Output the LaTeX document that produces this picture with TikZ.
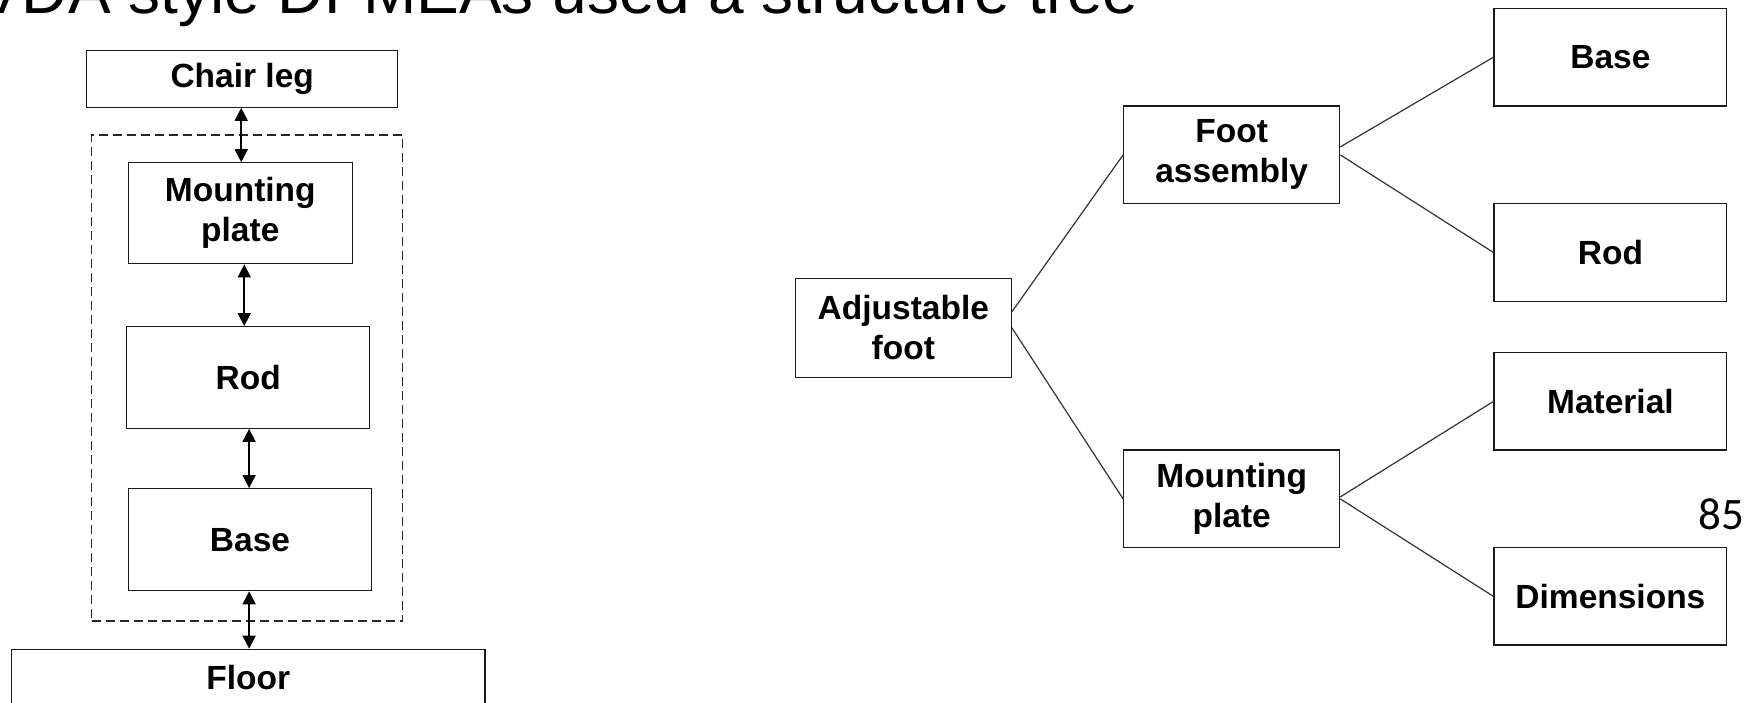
\documentclass[tikz,border=0pt]{standalone}
\usepackage{fontspec}
\setmainfont{Liberation Sans}
\newfontfamily\pagenumfont{Carlito}
\usetikzlibrary{arrows.meta,calc}

\tikzset{
  box/.style={draw=black!90, line width=1.2pt, rectangle, inner sep=0pt,
    align=center, font=\bfseries\fontsize{33.5}{40}\selectfont},
  biarrow/.style={line width=1.6pt,
    {Triangle[length=13pt,width=13pt]}-{Triangle[length=13pt,width=13pt]}},
  branch/.style={line width=1.2pt, draw=black!80},
  groupframe/.style={draw=black!85, line width=1.2pt, dash pattern=on 9pt off 5pt}
}

\begin{document}
\begin{tikzpicture}[x=1pt,y=-1pt]
  \useasboundingbox (0,0) rectangle (1747,702);

  % heading (partly above the page edge)
  \node[anchor=base west, inner sep=0pt, font=\fontsize{64}{70}\selectfont]
    (title) at (-21,13.3) {VDA style DFMEAs used a structure tree};

  % ---- interface chain ----
  \node[groupframe, minimum width=311pt, minimum height=486pt, inner sep=0pt]
    (frame) at (247.2,378) {};
  \node[box, minimum width=311pt, minimum height=57pt] (chair) at (242.2,78.7) {Chair leg};
  \node[box, minimum width=224pt, minimum height=101pt] (mplate) at (240.3,213.3) {Mounting\\plate};
  \node[box, minimum width=243pt, minimum height=101.6pt] (rod) at (248.2,377.5) {Rod};
  \node[box, minimum width=243.4pt, minimum height=102pt] (base) at (250,539.7) {Base};
  \node[box, minimum width=473.3pt, minimum height=57pt] (floor) at (248.3,677.8) {Floor};

  \coordinate (m1) at ($(chair.south)!0.5!(mplate.north)$);
  \coordinate (m2) at ($(mplate.south)!0.5!(rod.north)$);
  \coordinate (m3) at ($(rod.south)!0.5!(base.north)$);
  \coordinate (m4) at ($(base.south)!0.5!(floor.north)$);
  \draw[biarrow] (chair.south -| m1) -- (mplate.north -| m1);
  \draw[biarrow] (mplate.south -| m2) -- (rod.north -| m2);
  \draw[biarrow] (rod.south -| m3) -- (base.north -| m3);
  \draw[biarrow] (base.south -| m4) -- (floor.north -| m4);

  % ---- structure tree ----
  \node[box, minimum width=216pt, minimum height=99pt] (adj) at (903.3,327.8) {Adjustable\\foot};
  \node[box, minimum width=216pt, minimum height=97.7pt] (fa) at (1231.7,154.9) {Foot\\assembly};
  \node[box, minimum width=216pt, minimum height=97.7pt] (mp) at (1231.7,498.9) {Mounting\\plate};
  \node[box, minimum width=232.7pt, minimum height=97.7pt] (tbase) at (1610.4,57.2) {Base};
  \node[box, minimum width=232.7pt, minimum height=97.7pt] (trod) at (1610.4,252.5) {Rod};
  \node[box, minimum width=232.7pt, minimum height=97.3pt] (mat) at (1610.4,401.4) {Material};
  \node[box, minimum width=232.7pt, minimum height=97.3pt] (dim) at (1610.4,596.4) {Dimensions};

  \draw[branch] ([yshift=16pt]adj.east) -- (fa.west);
  \draw[branch] (adj.east) -- (mp.west);
  \draw[branch] ([yshift=8pt]fa.east) -- (tbase.west);
  \draw[branch] (fa.east) -- (trod.west);
  \draw[branch] ([yshift=2pt]mp.east) -- (mat.west);
  \draw[branch] (mp.east) -- (dim.west);

  % page number
  \node[anchor=base east, inner sep=0pt, font=\pagenumfont\fontsize{45}{50}\selectfont]
    (pnum) at (1744,529.3) {85};
\end{tikzpicture}
\end{document}
